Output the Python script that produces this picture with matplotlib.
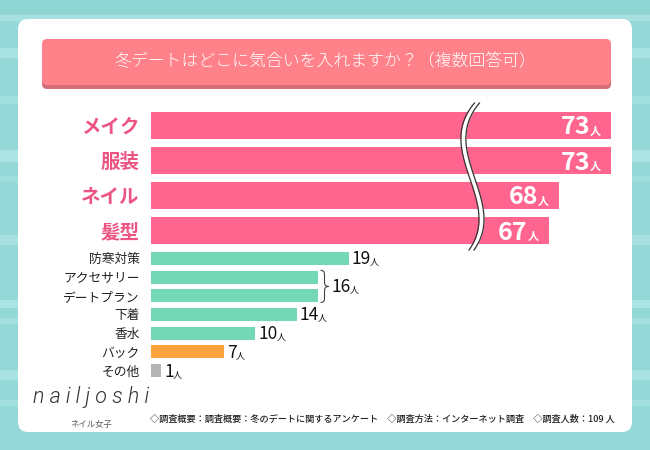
import matplotlib
matplotlib.use('Agg')
import matplotlib.pyplot as plt
import numpy as np
from matplotlib.patches import FancyBboxPatch, Rectangle, PathPatch
from matplotlib.path import Path
from matplotlib.transforms import Affine2D, ScaledTranslation

plt.rcParams['font.family'] = ['Noto Sans CJK JP', 'DejaVu Sans']

# data
title = '冬デートはどこに気合いを入れますか？（複数回答可）'
top_labels = ['メイク', '服装', 'ネイル', '髪型']
top_values = [73, 73, 68, 67]
low_labels = ['防寒対策', 'アクセサリー', 'デートプラン', '下着', '香水', 'バック', 'その他']
low_values = [19, 16, 16, 14, 10, 7, 1]
low_colors = ['#74d8b6', '#74d8b6', '#74d8b6', '#74d8b6', '#74d8b6', '#ffa43c', '#b4b4b4']
note = '◇調査概要：調査概要：冬のデートに関するアンケート　◇調査方法：インターネット調査　◇調査人数：109 人'

PINK = '#ff658e'
PINK_TXT = '#ec5484'
XMAX = 44.2     # visible units on the value axis
BREAK = 28.8    # units hidden by the axis break for the big bars

W, H = 650, 450
fig = plt.figure(figsize=(W / 100, H / 100), dpi=100)


def px_axes(x0, y0, x1, y1, z=1):
    a = fig.add_axes([x0 / W, 1 - y1 / H, (x1 - x0) / W, (y1 - y0) / H], zorder=z)
    a.patch.set_alpha(0)
    return a


# background + card
bg = px_axes(0, 0, W, H, z=0)
bg.set_xlim(0, W)
bg.set_ylim(H, 0)
bg.axis('off')
bg.add_patch(Rectangle((0, 0), W, H, color='#94d9d7'))
for y, h, c in [(0, 14, '#8ed6d4'), (15, 6, '#a6e1df'), (48, 10, '#a9e3e1'), (96, 8, '#a2e0de'),
                (150, 12, '#abe4e2'), (176, 6, '#a0dedc'), (235, 10, '#a8e2e0'), (300, 8, '#abe4e2'),
                (318, 6, '#a2dfdd'), (370, 10, '#a9e3e1'), (400, 6, '#a2dfdd')]:
    bg.add_patch(Rectangle((0, y), W, h, color=c, lw=0))
bg.add_patch(FancyBboxPatch((18, 19), 614, 413, boxstyle='round,pad=0,rounding_size=10',
                            fc='white', ec='none'))
bg.add_patch(FancyBboxPatch((42, 42), 569, 47, boxstyle='round,pad=0,rounding_size=5',
                            fc='#d46e79', ec='none'))
bg.add_patch(FancyBboxPatch((42, 39), 569, 46, boxstyle='round,pad=0,rounding_size=5',
                            fc='#ff8189', ec='none'))
bg.text(325, 62, title, color='white', fontsize=12.2, ha='center', va='center', fontweight=300)

# big bars (broken axis)
ax1 = px_axes(151, 108, 611, 248)
ax1.barh(range(len(top_values)), [v - BREAK for v in top_values], height=0.77, color=PINK)
ax1.set_xlim(0, XMAX)
ax1.set_ylim(len(top_values) - 0.5, -0.5)
ax1.set_yticks(range(len(top_labels)), top_labels)
ax1.tick_params(length=0, pad=8, labelsize=14, labelcolor=PINK_TXT)
for lab in ax1.get_yticklabels():
    lab.set_fontweight('bold')
ax1.set_xticks([])
for s in ax1.spines.values():
    s.set_visible(False)
for i, v in enumerate(top_values):
    k = ax1.annotate('人', xy=(v - BREAK, i), xytext=(-10, -9), textcoords='offset pixels',
                     ha='right', va='baseline', color='white', fontsize=8, fontweight='bold')
    ax1.annotate(str(v), xy=(0, i), xycoords=(k, 'data'), xytext=(0, -9),
                 textcoords='offset pixels', ha='right', va='baseline', color='white',
                 fontsize=18, fontweight='bold')

# small bars
ax2 = px_axes(151, 249, 611, 380)
ax2.barh(range(len(low_values)), low_values, height=0.7, color=low_colors)
ax2.set_xlim(0, XMAX)
ax2.set_ylim(len(low_values) - 0.5, -0.5)
ax2.set_yticks(range(len(low_labels)), low_labels)
ax2.tick_params(length=0, pad=8, labelsize=9.2, labelcolor='#222222')
ax2.set_xticks([])
for s in ax2.spines.values():
    s.set_visible(False)


def value_label(ax, x, y, v, dx):
    t = ax.annotate(str(v), xy=(x, y), xytext=(dx, -6), textcoords='offset pixels',
                    ha='left', va='baseline', color='#111111', fontsize=12.5)
    ax.annotate('人', xy=(1, y), xycoords=(t, 'data'), xytext=(-1, -6),
                textcoords='offset pixels', ha='left', va='baseline', color='#111111',
                fontsize=6.5)


for i, v in enumerate(low_values):
    if i in (1, 2):
        continue
    value_label(ax2, v, i, v, 3)

# brace for the two 16s
bx, by = low_values[1], 1.5
verts = [(3, -16), (7, -16), (7, -14), (7, -10), (7, -4), (7, -1), (9, 0), (11, 0),
         (9, 0), (7, 1), (7, 4), (7, 10), (7, 14), (7, 16), (3, 16)]
codes = [Path.MOVETO, Path.CURVE4, Path.CURVE4, Path.CURVE4, Path.LINETO,
         Path.CURVE4, Path.CURVE4, Path.CURVE4, Path.CURVE4, Path.CURVE4, Path.CURVE4,
         Path.LINETO, Path.CURVE4, Path.CURVE4, Path.CURVE4]
tr = Affine2D().scale(1, -1) + ScaledTranslation(bx, by, ax2.transData)
ax2.add_patch(PathPatch(Path(verts, codes), transform=tr, fc='none', ec='#444444', lw=0.8,
                        clip_on=False))
value_label(ax2, bx, by, low_values[1], 14)

# axis-break squiggle
fg = px_axes(0, 0, W, H, z=5)
fg.set_xlim(0, W)
fg.set_ylim(H, 0)
fg.axis('off')
yy = np.linspace(103, 250, 120)
cy = [103, 135, 205, 250]
cx = [477, 463.5, 480, 471.5]
xx = np.polyval(np.polyfit(cy, cx, 3), yy)
fg.fill_betweenx(yy, xx - 2.5, xx + 2.5, color='white', lw=0)
fg.plot(xx - 2.5, yy, color='#333333', lw=0.9)
fg.plot(xx + 2.5, yy, color='#333333', lw=0.9)

# footer
bg.text(33, 397, 'n a i l j o s h i', fontsize=15.5, family=['Roboto', 'DejaVu Sans'],
        fontweight=300, fontstyle='italic', color='#333333', va='center', ha='left')
bg.text(91, 424, 'ネイル女子', fontsize=6, color='#555555', ha='center', va='center')
bg.text(150, 419, note, fontsize=6.6, color='#222222', ha='left', va='center', fontweight=500)

fig.savefig('out.png', dpi=100)
